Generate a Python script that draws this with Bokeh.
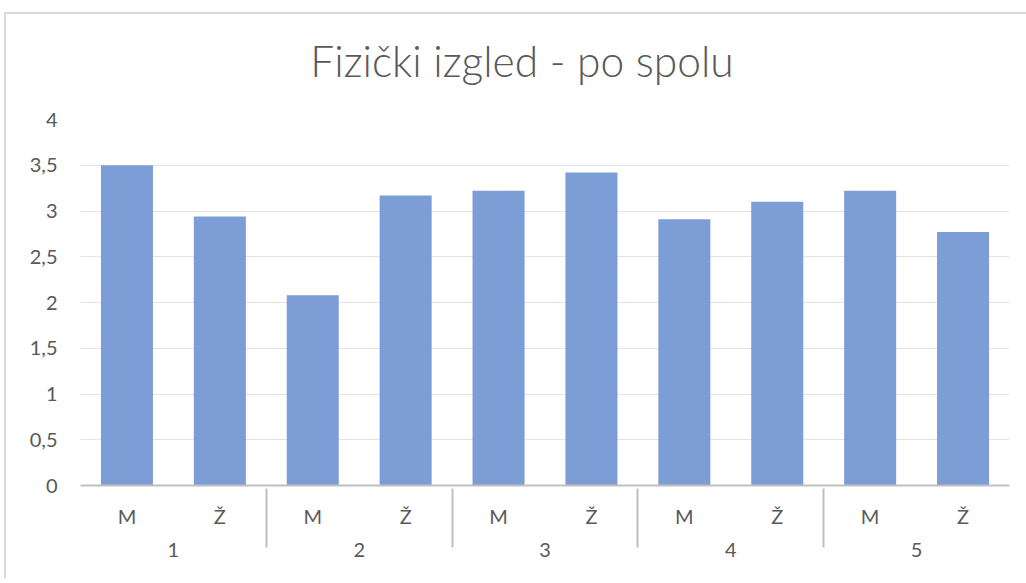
from bokeh.plotting import figure
from bokeh.models import FactorRange, ColumnDataSource, CustomJSTickFormatter, Range1d, FixedTicker, Div
from bokeh.layouts import column
from bokeh.embed import file_html
from bokeh.resources import INLINE

groups = ["1", "2", "3", "4", "5"]
sexes = ["M", "Ž"]
values_m = [3.50, 2.08, 3.22, 2.91, 3.22]
values_z = [2.94, 3.17, 3.42, 3.10, 2.77]
y_ticks = [0, 0.5, 1, 1.5, 2, 2.5, 3, 3.5, 4]
title_text = "Fizički izgled - po spolu"

factors = []
tops = []
for g, vm, vz in zip(groups, values_m, values_z):
    factors.append((g, sexes[0])); tops.append(vm)
    factors.append((g, sexes[1])); tops.append(vz)

src = ColumnDataSource(data=dict(x=factors, top=tops))

xr = FactorRange(*factors, group_padding=0, range_padding=0)
p = figure(x_range=xr, y_range=Range1d(0, 4), width=1018, height=478,
           output_backend="svg", toolbar_location=None,
           min_border_left=74, min_border_right=15, min_border_top=19, min_border_bottom=93)

p.vbar(x="x", top="top", width=0.56, source=src, fill_color="#7C9DD5", line_color=None)

p.outline_line_color = None
p.xgrid.grid_line_color = None
p.ygrid.grid_line_color = "#e3e3e3"
p.ygrid.grid_line_width = 1

p.yaxis.ticker = FixedTicker(ticks=y_ticks)
p.yaxis.formatter = CustomJSTickFormatter(code="return tick.toString().replace('.', ',');")
p.yaxis.axis_line_color = None
p.yaxis.major_tick_line_color = None
p.yaxis.minor_tick_line_color = None
p.yaxis.major_label_text_font = "Lato"
p.yaxis.major_label_text_font_size = "20px"
p.yaxis.major_label_text_color = "#595959"
p.yaxis.major_label_standoff = 17

xa = p.xaxis[0]
xa.axis_line_color = "#bfbfbf"
xa.axis_line_width = 2
xa.major_tick_line_color = None
xa.minor_tick_line_color = None
xa.major_label_text_font = "Lato"
xa.major_label_text_font_size = "20px"
xa.major_label_text_color = "#595959"
xa.major_label_standoff = 12
xa.group_text_font = "Lato"
xa.group_text_font_size = "20px"
xa.group_text_font_style = "normal"
xa.group_text_color = "#595959"
xa.separator_line_color = "#bfbfbf"
xa.separator_line_width = 2

title_div = Div(text=title_text, width=1018, height=76,
                styles={"font-family": "'Lato Light', 'Open Sans Light', Lato",
                        "font-size": "42.5px", "color": "#595959",
                        "text-align": "center", "line-height": "1",
                        "padding-top": "21px", "padding-left": "4px",
                        "box-sizing": "border-box"})

layout = column(title_div, p, spacing=0,
                styles={"margin-left": "4px", "margin-top": "12px",
                        "border-left": "2px solid #d9d9d9", "border-top": "2px solid #d9d9d9"})

open("out.html", "w").write(file_html(layout, INLINE))
